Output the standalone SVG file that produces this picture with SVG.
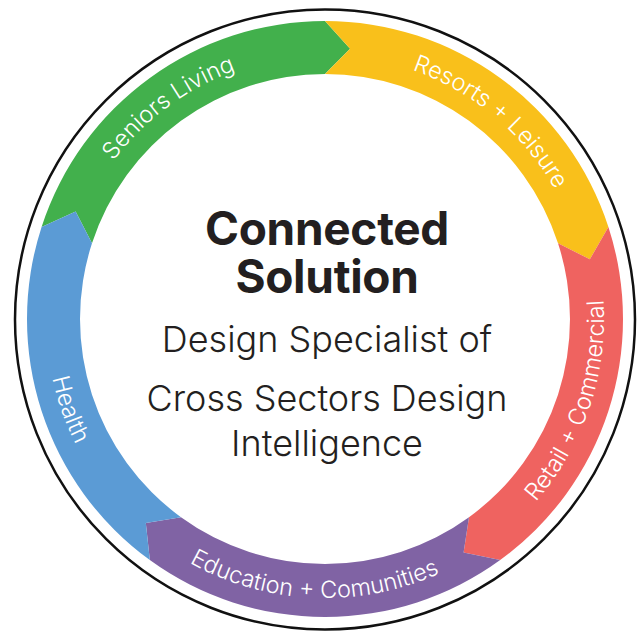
<svg xmlns="http://www.w3.org/2000/svg" width="640" height="633" viewBox="0 0 640 633">
<style>
.lbl{font-family:Inter,"Liberation Sans",sans-serif;font-size:23.5px;font-weight:300;fill:#fff}
.title{font-family:Inter,"Liberation Sans",sans-serif;font-size:46px;font-weight:700;fill:#231f20;text-anchor:middle;letter-spacing:-0.3px}
.sub{font-family:Inter,"Liberation Sans",sans-serif;font-size:36px;font-weight:300;fill:#231f20;text-anchor:middle}
</style>
<defs>
<path id="pSen" d="M62.70,348.88 A264,264 0 0 1 430.27,76.90" fill="none"/>
<path id="pRes" d="M234.71,70.92 A264,264 0 0 1 584.99,364.84" fill="none"/>
<path id="pRet" d="M380.62,592.40 A279,279 0 0 0 533.96,134.13" fill="none"/>
<path id="pEdu" d="M77.75,448.26 A279,279 0 0 0 560.57,468.50" fill="none"/>
<path id="pHea" d="M112.85,137.80 A279,279 0 0 0 274.16,593.33" fill="none"/>
</defs>
<circle cx="325" cy="319.5" r="310" fill="none" stroke="#111" stroke-width="2.5"/>
<g id="connectors"></g>
<g id="seniors-living">
<path fill="#42b04c" d="M41.585,226.913 A298,298 0 0 1 325,21 L350.079,48.661 L325,74 A245,245 0 0 0 91.991,243.291 L75.642,211.609 Z"/>
<text class="lbl"><textPath href="#pSen" startOffset="50%" text-anchor="middle">Seniors Living</textPath></text>
</g>
<g id="resorts-leisure">
<path fill="#f9c01b" d="M325,21 A298,298 0 0 1 608.415,226.913 L589.858,259.312 L558.009,243.291 A245,245 0 0 0 325,74 L350.079,48.661 Z"/>
<text class="lbl"><textPath href="#pRes" startOffset="50%" text-anchor="middle">Resorts + Leisure</textPath></text>
</g>
<g id="retail-commercial">
<path fill="#ef6360" d="M608.415,226.913 A298,298 0 0 1 500.160,560.087 L463.612,552.450 L469.007,517.209 A245,245 0 0 0 558.009,243.291 L589.858,259.312 Z"/>
<text class="lbl"><textPath href="#pRet" startOffset="50%" text-anchor="middle">Retail + Commercial</textPath></text>
</g>
<g id="education-comunities">
<path fill="#8063a4" d="M500.160,560.087 A298,298 0 0 1 149.840,560.087 L145.809,522.968 L180.993,517.209 A245,245 0 0 0 469.007,517.209 L463.612,552.450 Z"/>
<text class="lbl"><textPath href="#pEdu" startOffset="50%" text-anchor="middle">Education + Comunities</textPath></text>
</g>
<g id="health">
<path fill="#5b9bd5" d="M149.840,560.087 A298,298 0 0 1 41.585,226.913 L75.642,211.609 L91.991,243.291 A245,245 0 0 0 180.993,517.209 L145.809,522.968 Z"/>
<text class="lbl"><textPath href="#pHea" startOffset="50%" text-anchor="middle">Health</textPath></text>
</g>
<g id="center">
<text class="title"><tspan x="327" y="245">Connected</tspan><tspan x="327" y="293">Solution</tspan></text>
<text class="sub" x="327" y="352">Design Specialist of</text>
<text class="sub" x="327" y="411">Cross Sectors Design</text>
<text class="sub" x="327" y="456">Intelligence</text>
</g>
</svg>
